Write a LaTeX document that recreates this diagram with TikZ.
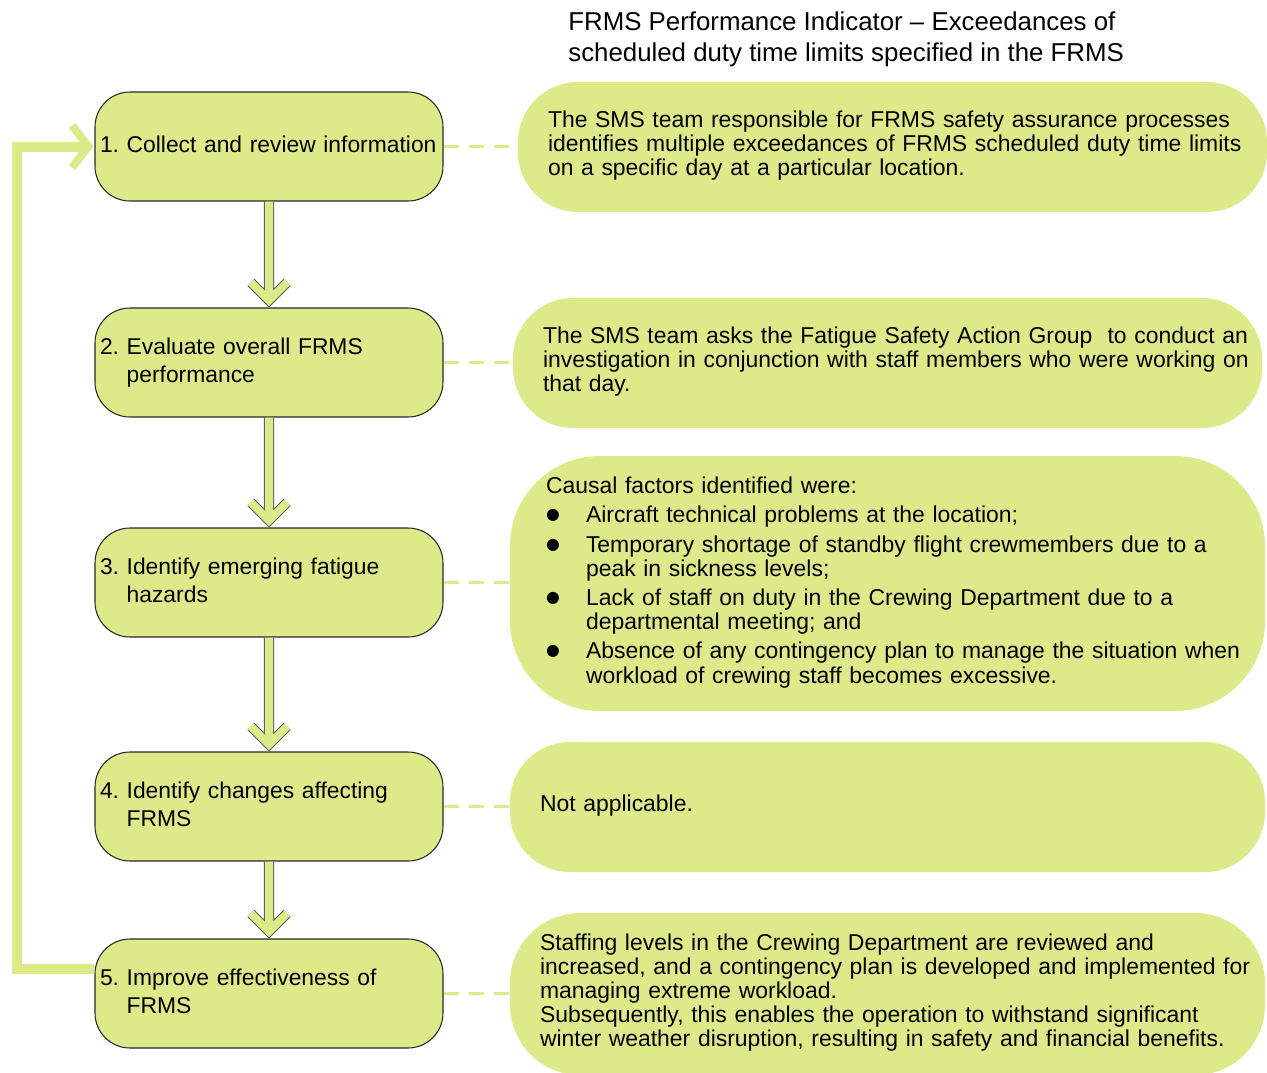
\documentclass[tikz,border=0pt]{standalone}
\usepackage{fontspec}
\setmainfont{Liberation Sans}
\newfontfamily\dotfont{DejaVu Sans}
\definecolor{limefill}{RGB}{220,234,138}
\definecolor{boxline}{RGB}{40,40,40}
\definecolor{shaftline}{RGB}{95,95,95}
\newcommand{\numline}[1]{\begin{tabular}{@{}l@{\ }l@{}}#1\end{tabular}}
\newcommand{\noteline}[1]{\begin{tabular}{@{}l@{}}#1\end{tabular}}
\newcommand{\bigdot}{\raisebox{0.25ex}{\dotfont\fontsize{9}{9}\selectfont ●}}
\newcommand{\flowarrow}[2]{%
  \draw[flowline] (#1.south) -- ([yshift=0.14cm]#2.north)
    ([shift={(-0.36,0.5)}]#2.north) -- ([yshift=0.14cm]#2.north)
    -- ([shift={(0.36,0.5)}]#2.north);}
\begin{document}
\begin{tikzpicture}[
        stepbox/.style={rectangle, rounded corners=0.7cm,
            draw=boxline, line width=0.6pt, fill=limefill,
            text width=6.76cm, inner xsep=0.1cm,
            minimum height=2.18cm, align=left,
            font=\fontsize{13}{15.9}\selectfont},
        notebox/.style={rectangle, rounded corners=1.2cm,
            fill=limefill, draw=none, inner xsep=0.6cm,
            align=left, font=\fontsize{13.05}{13.7}\selectfont},
        flowline/.style={draw=shaftline, line width=0.6pt,
            double=limefill, double distance=0.16cm},
        dashlink/.style={draw=limefill, line width=1.5pt,
            dash pattern=on 0.3cm off 0.2cm},
        loopline/.style={draw=limefill, line width=0.2cm},
        loophead/.style={draw=limefill, line width=0.16cm}
      ]
      \useasboundingbox (0,0) rectangle (25.34,-21.44);
      \node[anchor=west, align=left, inner sep=0pt,
        font=\fontsize{14.7}{17.6}\selectfont] (title) at (11.36,-0.78)
      {FRMS Performance Indicator -- Exceedances of\\
       scheduled duty time limits specified in the FRMS};

      \node[stepbox] (b1) at (5.38,-2.93)
      {\numline{1.&Collect and review information}};
      \node[stepbox] (b2) at (5.38,-7.25)
      {\numline{2.&Evaluate overall FRMS\\&performance}};
      \node[stepbox] (b3) at (5.38,-11.65)
      {\numline{3.&Identify emerging fatigue\\&hazards}};
      \node[stepbox] (b4) at (5.38,-16.13)
      {\numline{4.&Identify changes affecting\\&FRMS}};
      \node[stepbox] (b5) at (5.38,-19.87)
      {\numline{5.&Improve effectiveness of\\&FRMS}};

      \node[notebox, text width=13.78cm, minimum height=2.6cm] (r1) at (17.85,-2.94)
      {\noteline{The SMS team responsible for FRMS safety assurance processes\\
        identifies multiple exceedances of FRMS scheduled duty time limits\\
        on a specific day at a particular location.}};
      \node[notebox, text width=13.78cm, minimum height=2.6cm] (r2) at (17.75,-7.26)
      {\noteline{The SMS team asks the Fatigue Safety Action Group\ \ to conduct an\\
        investigation in conjunction with staff members who were working on\\
        that day.}};
      \node[notebox, rounded corners=1.8cm, inner xsep=0.72cm, text width=13.66cm,
        minimum height=5.1cm] (r3) at (17.75,-11.67)
      {\begin{tabular}{@{}p{0.8cm}@{}l@{}}
        \multicolumn{2}{@{}l@{}}{Causal factors identified were:}\\[2.8pt]
        \bigdot & Aircraft technical problems at the location;\\[3.5pt]
        \bigdot & Temporary shortage of standby flight crewmembers due to a\\
        & peak in sickness levels;\\[2.8pt]
        \bigdot & Lack of staff on duty in the Crewing Department due to a\\
        & departmental meeting; and\\[2.8pt]
        \bigdot & Absence of any contingency plan to manage the situation when\\
        & workload of crewing staff becomes excessive.
       \end{tabular}};
      \node[notebox, text width=13.9cm, minimum height=2.6cm] (r4) at (17.75,-16.14)
      {\noteline{Not applicable.}};
      \node[notebox, rounded corners=1.4cm, text width=13.9cm,
        minimum height=3.24cm] (r5) at (17.75,-19.88)
      {\noteline{Staffing levels in the Crewing Department are reviewed and\\
        increased, and a contingency plan is developed and implemented for\\
        managing extreme workload.\\
        Subsequently, this enables the operation to withstand significant\\
        winter weather disruption, resulting in safety and financial benefits.}};

      \flowarrow{b1}{b2}
      \flowarrow{b2}{b3}
      \flowarrow{b3}{b4}
      \flowarrow{b4}{b5}

      \foreach \i in {1,...,5}
        \draw[dashlink] (b\i.east) -- (b\i.east -| r\i.west);

      % feedback loop back to step 1
      \coordinate (loopx) at (0.34,0);
      \draw[loopline] ([yshift=0.5cm]b5.west) -| (loopx |- b1.west)
        -- ([xshift=-0.12cm]b1.west);
      \draw[loophead] ([shift={(-0.45,0.42)}]b1.west) -- ([xshift=-0.12cm]b1.west)
        -- ([shift={(-0.45,-0.42)}]b1.west);
    \end{tikzpicture}
\end{document}
